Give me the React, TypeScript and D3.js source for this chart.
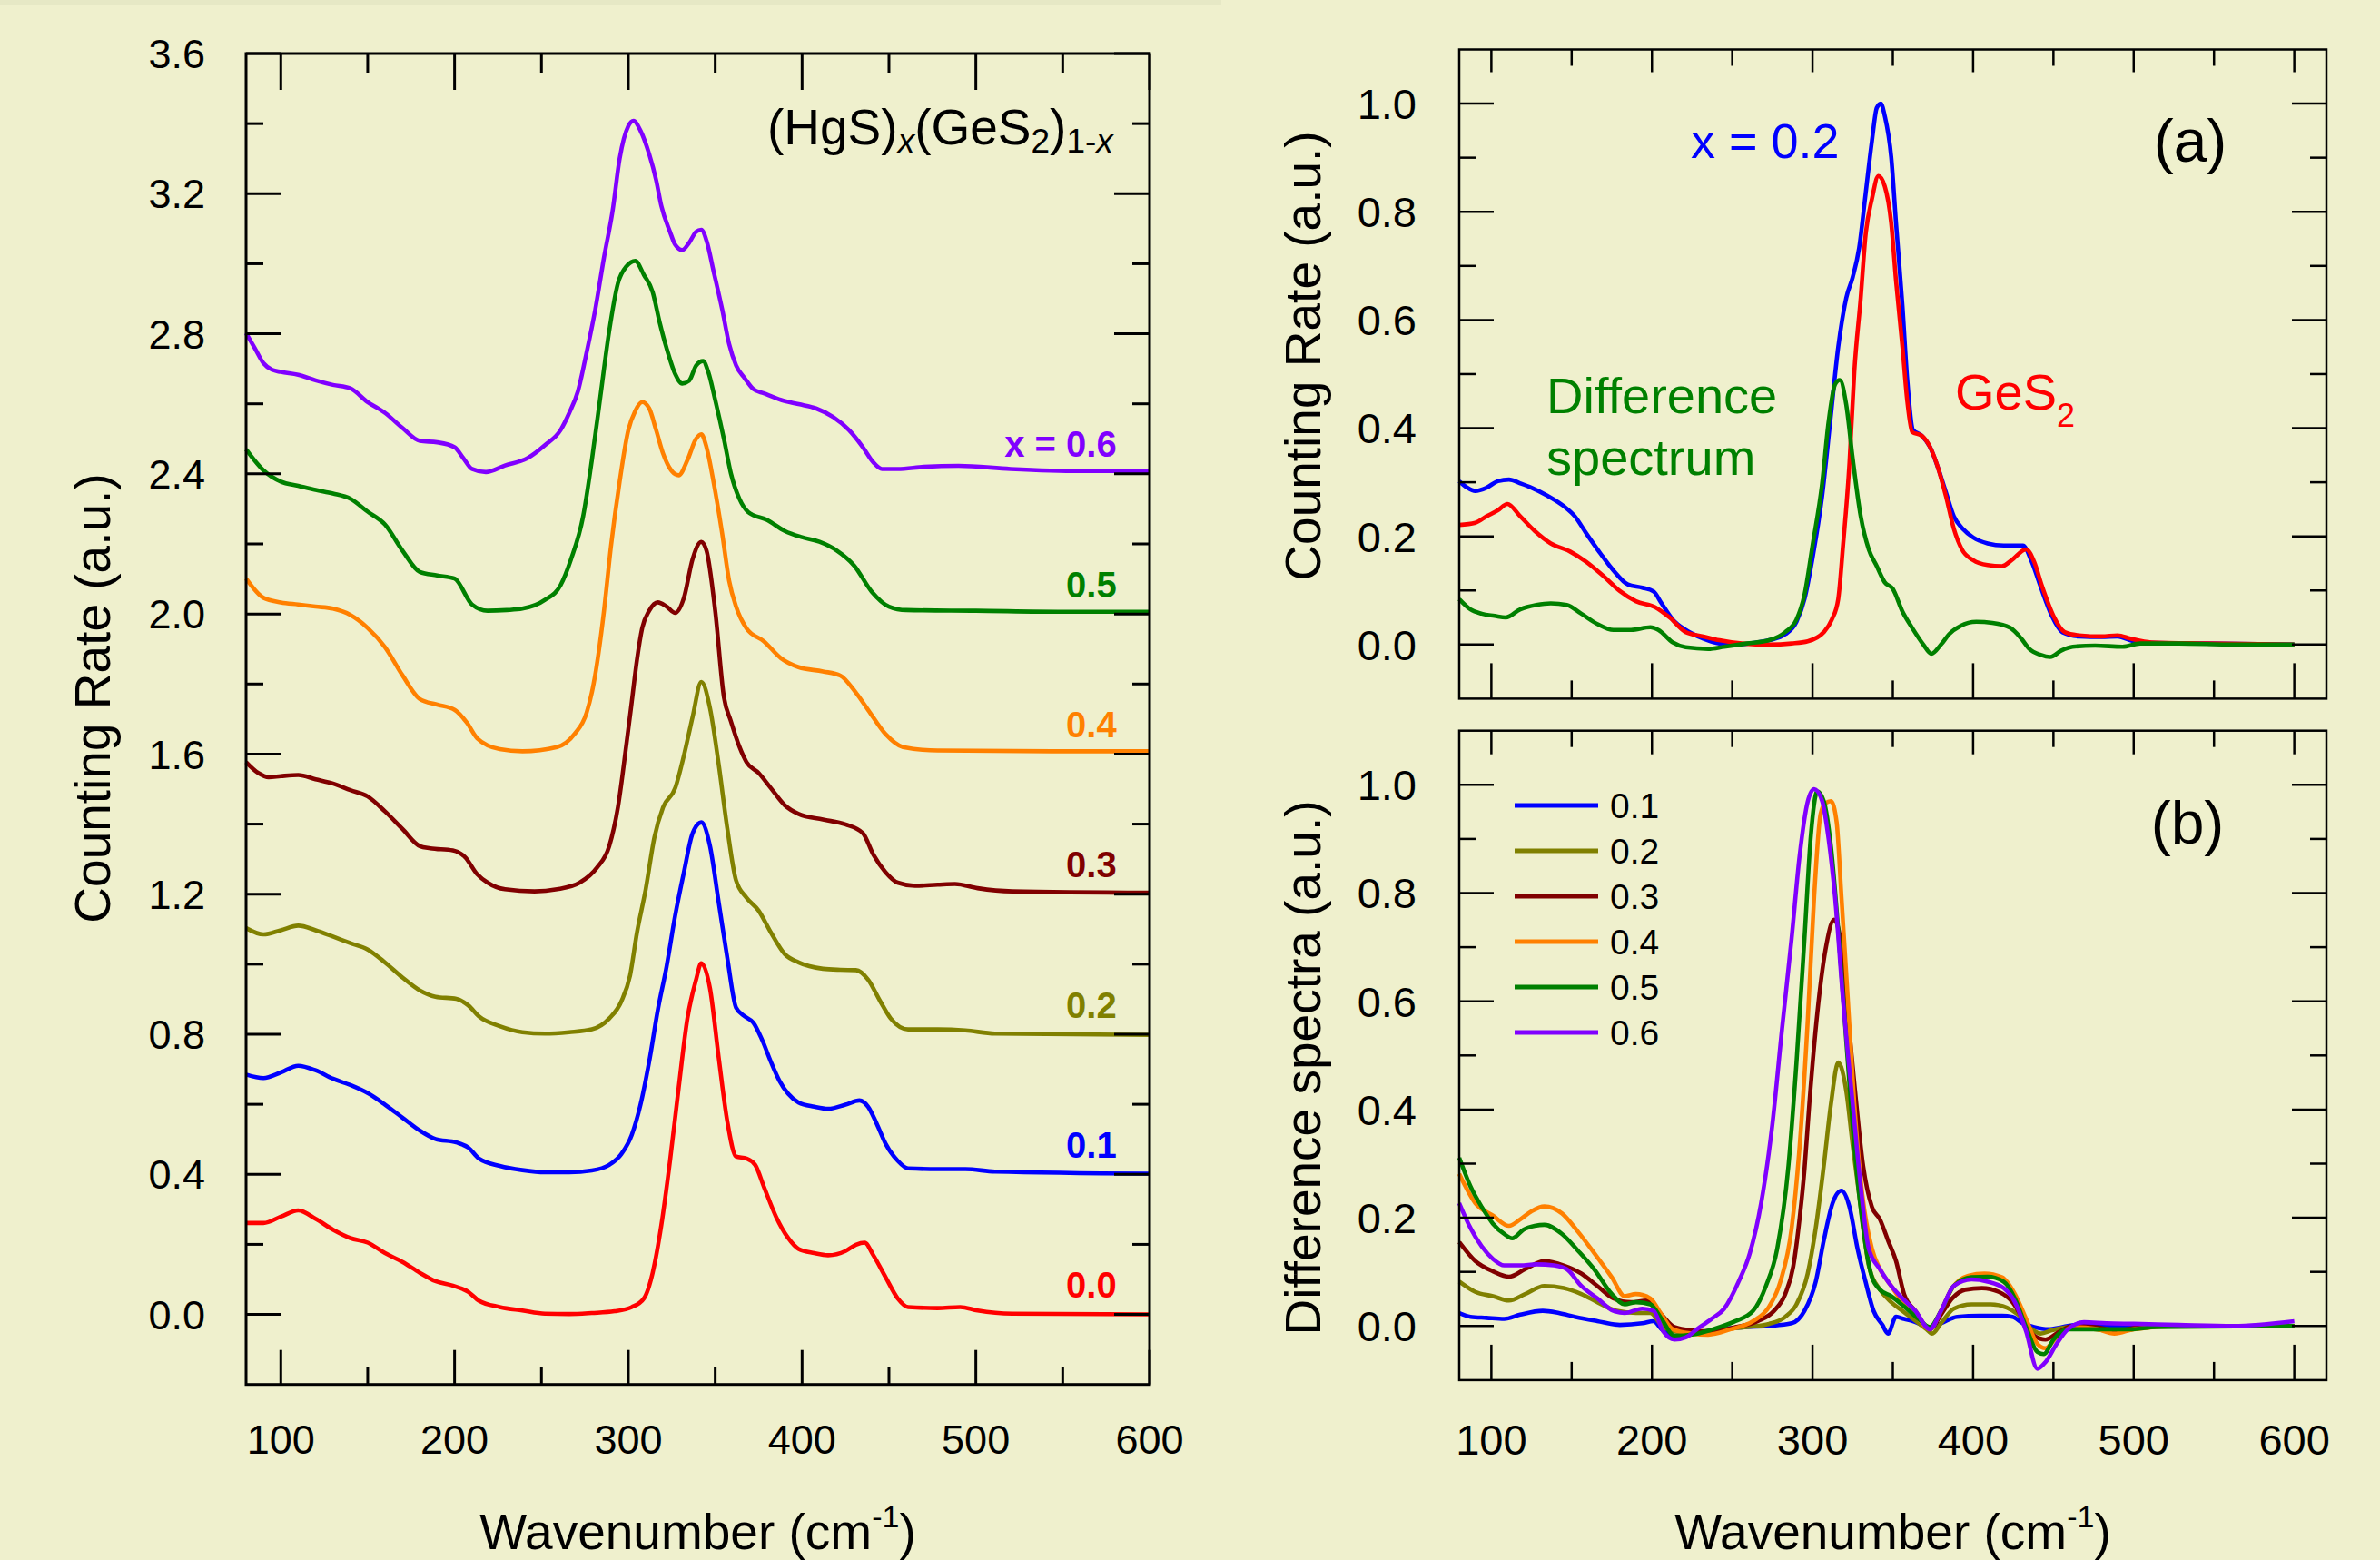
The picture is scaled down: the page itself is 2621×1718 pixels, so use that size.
import React from "react";
import * as d3 from "d3";

type Pt = [number, number];

const FONT = "'Liberation Sans', Arial, Helvetica, sans-serif";
const BG = "#EFF0CD";

// ---------- left panel: Raman spectra of (HgS)x(GeS2)1-x, offset by 0.4 ----------
const spec00: Pt[] = [[80,0.261],[90,0.261],[100,0.279],[110,0.297],[120,0.273],[130,0.242],[140,0.218],[150,0.205],[160,0.175],[170,0.15],[180,0.119],[189,0.095],[199,0.082],[208,0.064],[214,0.039],[226,0.021],[239,0.011],[252,0.002],[266,0.001],[279,0.004],[292,0.009],[302,0.021],[309,0.046],[314,0.119],[319,0.255],[324,0.439],[329,0.648],[334,0.845],[339,0.956],[342,1.003],[347,0.931],[352,0.734],[357,0.55],[362,0.451],[368,0.445],[373,0.427],[378,0.365],[385,0.279],[392,0.218],[398,0.187],[407,0.175],[415,0.169],[425,0.181],[431,0.199],[436,0.205],[441,0.169],[448,0.107],[455,0.046],[461,0.021],[478,0.018],[491,0.021],[501,0.011],[521,0.002],[600,0.0]];
const spec01: Pt[] = [[80,0.685],[90,0.675],[100,0.691],[110,0.71],[120,0.697],[130,0.673],[140,0.655],[150,0.632],[160,0.599],[170,0.562],[180,0.525],[189,0.501],[201,0.491],[208,0.476],[214,0.445],[226,0.424],[239,0.412],[252,0.406],[266,0.406],[279,0.411],[289,0.427],[296,0.458],[302,0.513],[307,0.599],[312,0.722],[317,0.87],[322,0.993],[327,1.14],[332,1.263],[337,1.374],[342,1.405],[347,1.337],[352,1.177],[357,1.017],[362,0.876],[367,0.851],[372,0.833],[377,0.784],[382,0.722],[387,0.667],[392,0.63],[398,0.605],[407,0.593],[415,0.587],[425,0.599],[433,0.611],[438,0.593],[443,0.544],[448,0.488],[455,0.439],[461,0.417],[478,0.415],[494,0.415],[511,0.408],[600,0.402]];
const spec02: Pt[] = [[80,1.103],[90,1.085],[100,1.097],[110,1.11],[120,1.097],[130,1.079],[140,1.06],[150,1.042],[160,1.005],[170,0.962],[180,0.925],[189,0.907],[201,0.901],[208,0.882],[214,0.851],[226,0.823],[239,0.806],[252,0.802],[266,0.806],[279,0.814],[289,0.845],[296,0.894],[301,0.968],[305,1.091],[310,1.214],[315,1.362],[320,1.448],[327,1.503],[332,1.596],[337,1.706],[342,1.806],[347,1.731],[352,1.571],[357,1.386],[362,1.239],[368,1.19],[375,1.153],[382,1.091],[390,1.029],[398,1.005],[412,0.987],[422,0.984],[431,0.983],[438,0.956],[445,0.894],[451,0.845],[461,0.814],[478,0.814],[494,0.811],[511,0.802],[600,0.798]];
const spec03: Pt[] = [[80,1.577],[87,1.546],[93,1.534],[100,1.537],[110,1.54],[120,1.528],[130,1.516],[140,1.497],[150,1.479],[160,1.436],[170,1.386],[180,1.337],[186,1.331],[199,1.325],[206,1.306],[213,1.257],[219,1.233],[229,1.214],[246,1.208],[259,1.214],[272,1.233],[282,1.276],[289,1.337],[294,1.448],[299,1.632],[302,1.75],[305,1.87],[308,1.96],[312,2.009],[317,2.033],[322,2.021],[327,2.003],[332,2.046],[337,2.157],[342,2.206],[345,2.181],[350,2.009],[355,1.763],[359,1.694],[364,1.62],[368,1.577],[375,1.546],[382,1.503],[390,1.454],[398,1.429],[412,1.413],[425,1.399],[435,1.374],[441,1.313],[448,1.263],[455,1.233],[465,1.224],[478,1.227],[488,1.229],[501,1.217],[521,1.208],[600,1.204]];
const spec04: Pt[] = [[80,2.101],[90,2.046],[100,2.033],[110,2.027],[120,2.021],[130,2.015],[140,1.997],[150,1.96],[160,1.905],[170,1.825],[180,1.757],[190,1.741],[200,1.726],[207,1.69],[213,1.645],[226,1.614],[239,1.608],[259,1.62],[269,1.657],[276,1.718],[280,1.8],[286,2.009],[290,2.193],[295,2.378],[300,2.525],[304,2.58],[308,2.605],[312,2.587],[316,2.525],[320,2.458],[325,2.408],[329,2.396],[334,2.439],[339,2.5],[342,2.513],[345,2.476],[349,2.378],[354,2.23],[358,2.095],[362,2.021],[368,1.959],[378,1.922],[388,1.873],[398,1.848],[412,1.836],[422,1.824],[431,1.775],[438,1.726],[448,1.657],[458,1.62],[478,1.61],[544,1.608],[600,1.608]];
const spec05: Pt[] = [[80,2.47],[90,2.41],[100,2.378],[110,2.366],[120,2.354],[130,2.344],[140,2.329],[150,2.292],[160,2.255],[170,2.181],[180,2.12],[190,2.11],[200,2.101],[210,2.027],[219,2.009],[230,2.011],[239,2.015],[252,2.04],[261,2.082],[267,2.156],[274,2.279],[279,2.439],[284,2.624],[289,2.808],[294,2.944],[299,2.993],[304,3.008],[309,2.968],[314,2.919],[318,2.833],[322,2.759],[327,2.685],[331,2.658],[335,2.666],[339,2.709],[343,2.722],[346,2.691],[350,2.611],[355,2.5],[359,2.402],[364,2.328],[369,2.291],[380,2.268],[390,2.237],[400,2.219],[410,2.206],[420,2.181],[430,2.138],[440,2.064],[450,2.021],[460,2.011],[500,2.009],[550,2.006],[600,2.006]];
const spec06: Pt[] = [[80,2.802],[85,2.759],[90,2.716],[95,2.697],[100,2.691],[110,2.683],[120,2.667],[130,2.654],[140,2.644],[150,2.605],[160,2.574],[170,2.531],[180,2.494],[190,2.49],[200,2.476],[205,2.445],[210,2.414],[218,2.405],[229,2.424],[242,2.445],[252,2.482],[261,2.525],[266,2.574],[271,2.636],[276,2.747],[281,2.87],[286,3.018],[291,3.153],[295,3.3],[300,3.393],[303,3.408],[307,3.38],[312,3.313],[316,3.239],[319,3.165],[324,3.091],[327,3.054],[331,3.039],[335,3.06],[339,3.091],[342,3.097],[345,3.066],[349,2.98],[354,2.87],[358,2.771],[362,2.71],[367,2.673],[372,2.642],[378,2.63],[388,2.611],[398,2.599],[408,2.587],[418,2.562],[427,2.525],[435,2.476],[441,2.433],[446,2.414],[455,2.414],[470,2.42],[490,2.423],[520,2.414],[560,2.408],[600,2.408]];

const stackSpectra = [spec00, spec01, spec02, spec03, spec04, spec05, spec06];
const stackLabels = ["0.0", "0.1", "0.2", "0.3", "0.4", "0.5", "x = 0.6"];
const stackBase = [0, 0.4, 0.8, 1.2, 1.6, 2.0, 2.4];
const stackColors = ["#ff0000", "#0000ff", "#808000", "#800000", "#ff8000", "#008000", "#8000ff"];

// ---------- panel (a): x = 0.2, GeS2 and their difference ----------
const aX02: Pt[] = [[80,0.302],[85,0.29],[90,0.284],[97,0.29],[104,0.302],[111,0.305],[118,0.298],[125,0.29],[135,0.275],[145,0.256],[152,0.237],[159,0.206],[168,0.168],[176,0.137],[185,0.111],[194,0.105],[201,0.098],[206,0.076],[213,0.046],[221,0.027],[232,0.011],[242,0.002],[252,0],[263,0.003],[273,0.008],[283,0.019],[290,0.042],[295,0.084],[300,0.16],[306,0.275],[311,0.412],[316,0.55],[321,0.641],[325,0.679],[329,0.733],[333,0.832],[337,0.931],[340,0.992],[342.5,1.0],[345,0.977],[349,0.901],[352,0.779],[356,0.626],[359,0.489],[362.5,0.397],[368,0.386],[373,0.366],[378,0.328],[383,0.282],[388,0.237],[393.5,0.214],[400,0.198],[409,0.187],[419,0.183],[431,0.183],[436.5,0.153],[442,0.107],[449,0.053],[455.5,0.023],[466,0.015],[480,0.014],[490,0.015],[500,0.006],[514,0.003],[545,0.002],[600,0]];
const aGeS2: Pt[] = [[80,0.221],[90,0.225],[97,0.237],[104,0.248],[110,0.26],[118,0.237],[127,0.21],[137,0.187],[149,0.172],[159,0.153],[170,0.126],[180,0.099],[190,0.08],[202,0.069],[211,0.05],[221,0.023],[232,0.015],[242,0.008],[256,0.002],[273,0],[287,0.002],[297,0.006],[307,0.023],[312,0.046],[316,0.084],[319,0.183],[323,0.336],[326,0.504],[330,0.641],[333,0.756],[337,0.824],[341,0.866],[345,0.847],[349,0.779],[352,0.672],[356,0.55],[359,0.45],[362,0.393],[368,0.386],[373,0.366],[378,0.328],[383,0.275],[388,0.214],[393,0.176],[400,0.156],[409,0.147],[418,0.145],[424,0.156],[433,0.176],[438,0.153],[443,0.107],[450,0.053],[457,0.023],[466,0.017],[480,0.015],[490,0.017],[498,0.011],[511,0.004],[545,0.002],[600,0]];
const aDiff: Pt[] = [[80,0.084],[87,0.065],[94,0.057],[102,0.053],[109,0.05],[118,0.065],[128,0.073],[137,0.076],[147,0.073],[156,0.057],[166,0.038],[176,0.027],[187,0.027],[199,0.032],[204,0.027],[213,0.004],[221,-0.005],[235,-0.008],[245,-0.004],[259,0.002],[273,0.008],[283,0.023],[290,0.046],[295,0.092],[300,0.183],[306,0.298],[310,0.412],[314,0.481],[317,0.489],[321,0.443],[325,0.344],[330,0.237],[335,0.176],[340,0.145],[345,0.115],[350,0.103],[356,0.061],[362,0.031],[369,0],[374,-0.017],[380,0],[385,0.019],[392,0.034],[402,0.042],[412,0.04],[423,0.031],[430,0.011],[435,-0.008],[442,-0.019],[448,-0.023],[455,-0.011],[462,-0.004],[476,-0.002],[493,-0.004],[504,0.002],[528,0.002],[562,0],[600,0]];

// ---------- panel (b): difference spectra ----------
const diff01: Pt[] = [[80,0.024],[87,0.017],[97,0.015],[108,0.013],[118,0.021],[132,0.028],[142,0.024],[152,0.017],[166,0.009],[180,0.002],[194,0.005],[201,0.009],[206,-0.006],[213,-0.018],[225,-0.014],[242,-0.006],[259,-0.002],[273,0],[287,0.005],[295,0.028],[302,0.082],[307,0.158],[312.5,0.227],[318,0.25],[323,0.22],[328,0.143],[333,0.082],[338,0.028],[343.5,0.002],[347,-0.014],[352,0.017],[357,0.013],[362.5,0.009],[373,-0.002],[380,0.005],[390,0.017],[404,0.019],[418,0.019],[424.5,0.017],[431,0.005],[438,-0.002],[447,-0.006],[455.5,-0.002],[469,0.004],[493,0],[528,0],[600,0]];
const diff02: Pt[] = [[80,0.082],[90,0.063],[101,0.055],[111,0.047],[121,0.059],[133,0.074],[145,0.07],[156,0.059],[166,0.044],[178,0.028],[190,0.024],[199,0.024],[207,-0.002],[218,-0.011],[232,-0.01],[245,-0.006],[259,-0.002],[273,0.004],[283,0.017],[290,0.04],[297,0.097],[302,0.181],[307,0.296],[311.5,0.411],[316,0.487],[321,0.434],[325,0.334],[330,0.22],[335,0.112],[342,0.067],[349,0.044],[356,0.028],[362.5,0.013],[371,-0.006],[374.5,-0.014],[380,0.005],[388,0.032],[399,0.04],[411,0.04],[421,0.034],[428,0.021],[435,-0.002],[442,-0.014],[449,-0.008],[459,-0.002],[476,-0.006],[490,-0.01],[504,-0.004],[528,0],[600,0]];
const diff03: Pt[] = [[80,0.155],[90,0.12],[101,0.101],[111,0.091],[121,0.105],[133,0.12],[145,0.112],[156,0.097],[166,0.074],[176,0.051],[187,0.044],[197,0.047],[206,0.021],[214,-0.002],[225,-0.008],[238,-0.01],[252,-0.002],[266,0.009],[276,0.028],[283,0.059],[288,0.11],[292,0.2],[295,0.29],[298,0.411],[303,0.579],[308,0.694],[313.5,0.751],[318,0.701],[321,0.602],[326,0.449],[331.5,0.296],[337,0.22],[342,0.197],[347,0.158],[352,0.12],[357,0.059],[364,0.028],[373,-0.006],[380,0.021],[387,0.051],[395,0.067],[405.5,0.07],[416,0.063],[424.5,0.044],[431,0.013],[438,-0.018],[445,-0.025],[454,-0.01],[462,0],[476,-0.002],[490,-0.008],[504,-0.002],[528,0],[600,0]];
const diff04: Pt[] = [[80,0.281],[90,0.227],[101,0.204],[111,0.185],[118,0.197],[125,0.212],[133,0.221],[144,0.208],[154,0.174],[164,0.135],[175,0.09],[183,0.055],[190,0.059],[199,0.051],[206,0.021],[213,-0.006],[225,-0.014],[235,-0.016],[249,-0.006],[263,0.009],[273,0.036],[280,0.082],[287,0.181],[292,0.334],[297,0.564],[301,0.793],[305,0.946],[308,0.966],[311.5,0.97],[315,0.931],[318,0.793],[322,0.602],[326,0.411],[331,0.243],[337,0.143],[342,0.105],[349,0.074],[356,0.044],[364,0.021],[373,-0.006],[380,0.028],[387,0.07],[397,0.093],[407,0.097],[418,0.09],[426,0.059],[433,0.013],[440,-0.033],[445,-0.041],[452,-0.021],[462,-0.002],[476,-0.005],[488,-0.014],[500,-0.006],[528,0],[600,0]];
const diff05: Pt[] = [[80,0.311],[87,0.258],[94,0.22],[101,0.189],[108,0.17],[113,0.162],[120,0.178],[127,0.185],[133,0.187],[144,0.17],[154,0.139],[164,0.105],[175,0.059],[183,0.04],[190,0.044],[199,0.04],[206,0.013],[214,-0.018],[225,-0.016],[238,-0.006],[252,0.009],[263,0.028],[271,0.074],[278,0.143],[285,0.296],[290,0.487],[295,0.717],[299,0.908],[303,0.988],[307,0.97],[311.5,0.885],[316,0.732],[321,0.526],[326,0.334],[331.5,0.181],[337,0.09],[342,0.067],[349,0.055],[357,0.036],[366,0.013],[373,-0.002],[380,0.028],[388,0.074],[399,0.09],[409,0.091],[419,0.082],[426,0.051],[433,-0.002],[440,-0.048],[444,-0.052],[450,-0.025],[459,-0.006],[476,-0.006],[497,-0.006],[514,-0.002],[600,0]];
const diff06: Pt[] = [[80,0.227],[87,0.181],[94,0.147],[101,0.124],[108,0.112],[118,0.112],[128,0.114],[139,0.112],[147,0.105],[156,0.074],[166,0.051],[176,0.028],[183,0.024],[194,0.032],[201,0.028],[207,-0.01],[214,-0.025],[221,-0.021],[228,-0.006],[237,0.013],[245,0.032],[254,0.082],[261,0.135],[268,0.227],[275,0.373],[281,0.549],[287,0.717],[292,0.87],[297,0.969],[301,0.992],[306,0.97],[310,0.9],[314,0.793],[319,0.602],[325,0.411],[330,0.258],[335,0.143],[342,0.105],[349,0.074],[356,0.051],[364,0.028],[373,-0.006],[380,0.028],[388,0.074],[399,0.086],[409,0.082],[419,0.07],[426,0.044],[433,-0.01],[440,-0.079],[445,-0.067],[452,-0.033],[459,-0.006],[469,0.007],[483,0.005],[500,0.004],[528,0.002],[562,0],[600,0.009]];

const diffSpectra = [diff01, diff02, diff03, diff04, diff05, diff06];
const diffLabels = ["0.1", "0.2", "0.3", "0.4", "0.5", "0.6"];
const diffColors = ["#0000ff", "#808000", "#800000", "#ff8000", "#008000", "#8000ff"];

// ticks
const xMajorTicks = [100, 200, 300, 400, 500, 600];
const xMinorTicks = [150, 250, 350, 450, 550];
const leftYMajor = [0, 0.4, 0.8, 1.2, 1.6, 2.0, 2.4, 2.8, 3.2, 3.6];
const leftYMinor = [0.2, 0.6, 1.0, 1.4, 1.8, 2.2, 2.6, 3.0, 3.4];
const rightYMajor = [0, 0.2, 0.4, 0.6, 0.8, 1.0];
const rightYMinor = [0.1, 0.3, 0.5, 0.7, 0.9];

// scales
const xL = d3.scaleLinear().domain([80, 600]).range([271, 1266]);
const yL = d3.scaleLinear().domain([-0.2, 3.6]).range([1524.7, 59]);
const xR = d3.scaleLinear().domain([80, 620]).range([1607, 2562]);
const yA = d3.scaleLinear().domain([-0.1, 1.1]).range([769.4, 54.5]);
const yB = d3.scaleLinear().domain([-0.1, 1.1]).range([1519.9, 804.7]);

const fmt = d3.format(".1f");

function makeLine(x: d3.ScaleLinear<number, number>, y: d3.ScaleLinear<number, number>) {
  return d3
    .line<Pt>()
    .x((d) => x(d[0]))
    .y((d) => y(d[1]))
    .curve(d3.curveMonotoneX);
}

type FrameProps = {
  x: d3.ScaleLinear<number, number>;
  y: d3.ScaleLinear<number, number>;
  yMajor: number[];
  yMinor: number[];
  top: [number, number];
  bottom: [number, number];
  side: [number, number];
  sw: number;
};

// box frame with inward ticks on all four sides
function Frame({ x, y, yMajor, yMinor, top, bottom, side, sw }: FrameProps) {
  const [x0, x1] = x.range();
  const [y0, y1] = y.range();
  const segs: [number, number, number, number][] = [];
  xMajorTicks.forEach((t) => {
    segs.push([x(t), y1, x(t), y1 + top[0]]);
    segs.push([x(t), y0, x(t), y0 - bottom[0]]);
  });
  xMinorTicks.forEach((t) => {
    segs.push([x(t), y1, x(t), y1 + top[1]]);
    segs.push([x(t), y0, x(t), y0 - bottom[1]]);
  });
  yMajor.forEach((t) => {
    segs.push([x0, y(t), x0 + side[0], y(t)]);
    segs.push([x1, y(t), x1 - side[0], y(t)]);
  });
  yMinor.forEach((t) => {
    segs.push([x0, y(t), x0 + side[1], y(t)]);
    segs.push([x1, y(t), x1 - side[1], y(t)]);
  });
  return (
    <g stroke="#000" strokeWidth={sw} fill="none">
      {segs.map((s, i) => (
        <line key={i} x1={s[0]} y1={s[1]} x2={s[2]} y2={s[3]} />
      ))}
      <rect x={x0} y={y1} width={x1 - x0} height={y0 - y1} strokeLinejoin="miter" />
    </g>
  );
}

function WaveTitle({ cx }: { cx: number }) {
  return (
    <text x={cx} y={1706} textAnchor="middle" fontSize={55}>
      Wavenumber (cm
      <tspan fontSize={34} dy={-24}>-1</tspan>
      <tspan dy={24}>)</tspan>
    </text>
  );
}

export default function App() {
  const lineL = makeLine(xL, yL);
  const lineA = makeLine(xR, yA);
  const lineB = makeLine(xR, yB);
  const legendY = [887, 937, 987, 1037, 1087, 1137];

  return (
    <svg
      width={2621}
      height={1718}
      viewBox="0 0 2621 1718"
      style={{ position: "absolute", left: 0, top: 0, display: "block" }}
      fontFamily={FONT}
    >
      <rect width={2621} height={1718} fill={BG} />
      <rect width={1345} height={5} fill="#e6e8c5" />

      {/* ---------------- left panel ---------------- */}
      <g fill="none" strokeWidth={4.6} strokeLinejoin="round">
        {stackSpectra.map((s, i) => (
          <path key={i} d={lineL(s) ?? ""} stroke={stackColors[i]} />
        ))}
      </g>
      <Frame x={xL} y={yL} yMajor={leftYMajor} yMinor={leftYMinor} top={[40, 21]} bottom={[38, 19.5]} side={[39, 19]} sw={3} />
      <g fontSize={45} fill="#000">
        {leftYMajor.map((t) => (
          <text key={t} x={226} y={yL(t)} dy="0.36em" textAnchor="end">{fmt(t)}</text>
        ))}
        {xMajorTicks.map((t) => (
          <text key={t} x={xL(t)} y={1601} textAnchor="middle">{t}</text>
        ))}
      </g>
      <g fontSize={40} fontWeight="bold" textAnchor="end">
        {stackLabels.map((l, i) => (
          <text key={l} x={xL(581)} y={yL(stackBase[i] + 0.085)} dy="0.36em" fill={stackColors[i]}>{l}</text>
        ))}
      </g>
      <text x={845} y={159} fontSize={55}>
        (HgS)
        <tspan fontSize={37} dy={9} fontStyle="italic">x</tspan>
        <tspan dy={-9}>(GeS</tspan>
        <tspan fontSize={37} dy={9}>2</tspan>
        <tspan dy={-9}>)</tspan>
        <tspan fontSize={37} dy={9}>1-</tspan>
        <tspan fontSize={37} fontStyle="italic">x</tspan>
      </text>
      <WaveTitle cx={768.5} />
      <text transform="translate(121,769) rotate(-90)" textAnchor="middle" fontSize={55}>Counting Rate (a.u.)</text>

      {/* ---------------- panel (a) ---------------- */}
      <g fill="none" strokeWidth={4.6} strokeLinejoin="round">
        <path d={lineA(aX02) ?? ""} stroke="#0000ff" />
        <path d={lineA(aGeS2) ?? ""} stroke="#ff0000" />
        <path d={lineA(aDiff) ?? ""} stroke="#008000" />
      </g>
      <Frame x={xR} y={yA} yMajor={rightYMajor} yMinor={rightYMinor} top={[25, 18]} bottom={[39, 20]} side={[38, 18]} sw={2.5} />
      <g fontSize={47}>
        {rightYMajor.map((t) => (
          <text key={t} x={1560} y={yA(t)} dy="0.36em" textAnchor="end">{fmt(t)}</text>
        ))}
      </g>
      <text x={1862} y={174} fontSize={54} fill="#0000ff">x = 0.2</text>
      <text x={2412} y={178} fontSize={66} textAnchor="middle">(a)</text>
      <text x={1703} y={455} fontSize={56} fill="#008000">Difference</text>
      <text x={1703} y={523} fontSize={56} fill="#008000">spectrum</text>
      <text x={2153} y={451} fontSize={56} fill="#ff0000">
        GeS<tspan fontSize={36} dy={19}>2</tspan>
      </text>
      <text transform="translate(1454,392) rotate(-90)" textAnchor="middle" fontSize={55}>Counting Rate (a.u.)</text>

      {/* ---------------- panel (b) ---------------- */}
      <g fill="none" strokeWidth={4.6} strokeLinejoin="round">
        {diffSpectra.map((s, i) => (
          <path key={i} d={lineB(s) ?? ""} stroke={diffColors[i]} />
        ))}
      </g>
      <Frame x={xR} y={yB} yMajor={rightYMajor} yMinor={rightYMinor} top={[26, 18]} bottom={[39, 20]} side={[38, 18]} sw={2.5} />
      <g fontSize={47}>
        {rightYMajor.map((t) => (
          <text key={t} x={1560} y={yB(t)} dy="0.36em" textAnchor="end">{fmt(t)}</text>
        ))}
        {xMajorTicks.map((t) => (
          <text key={t} x={xR(t)} y={1602} textAnchor="middle">{t}</text>
        ))}
      </g>
      <g>
        {diffLabels.map((l, i) => (
          <g key={l}>
            <line x1={1668} x2={1760} y1={legendY[i]} y2={legendY[i]} stroke={diffColors[i]} strokeWidth={5} />
            <text x={1773} y={legendY[i]} dy="0.36em" fontSize={39}>{l}</text>
          </g>
        ))}
      </g>
      <text x={2409} y={929} fontSize={66} textAnchor="middle">(b)</text>
      <text transform="translate(1454,1176) rotate(-90)" textAnchor="middle" fontSize={55}>Difference spectra (a.u.)</text>
      <WaveTitle cx={2084.5} />
    </svg>
  );
}
